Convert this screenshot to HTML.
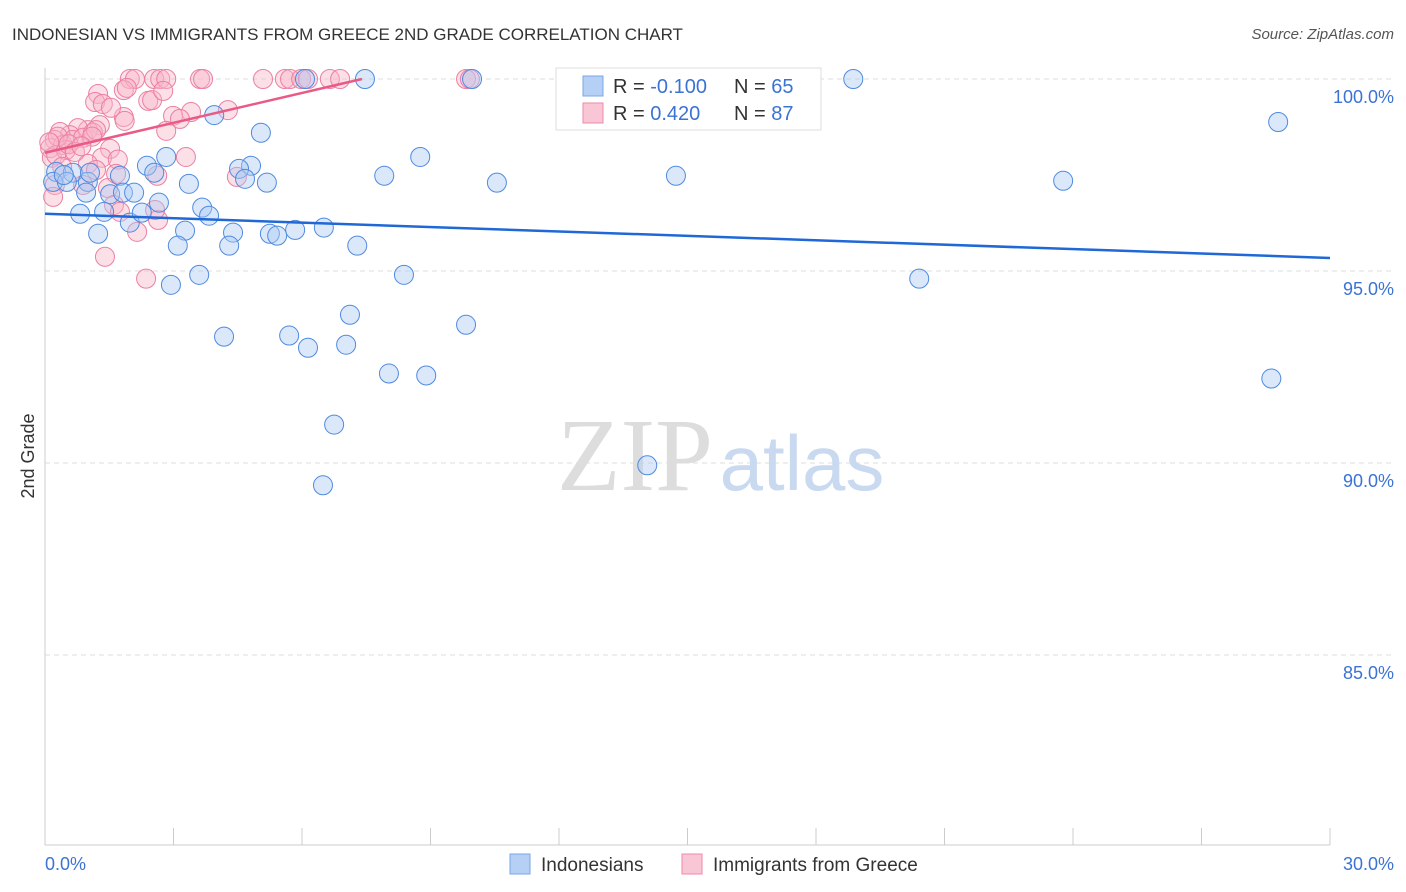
<!DOCTYPE html>
<html><head><meta charset="utf-8"><style>
body{margin:0;background:#fff;font-family:"Liberation Sans",sans-serif}
svg{display:block}
</style></head><body>
<svg id="chart" width="1406" height="892" xmlns="http://www.w3.org/2000/svg">
<text x="12" y="40" font-size="17" fill="#333">INDONESIAN VS IMMIGRANTS FROM GREECE 2ND GRADE CORRELATION CHART</text>
<text x="1394" y="39" font-size="15" fill="#555" font-style="italic" text-anchor="end">Source: ZipAtlas.com</text>
<g id="grid"></g>
<g><text x="635" y="490" font-size="104" fill="#ddd" font-family="Liberation Serif,serif" text-anchor="middle">ZIP</text><text x="802" y="490" font-size="78" fill="#c9d9f0" text-anchor="middle">atlas</text></g>
<line x1="45" y1="68" x2="45" y2="845" stroke="#ccc"/>
<line x1="45" y1="845" x2="1330" y2="845" stroke="#ccc"/>
<g id="xticks"></g>
<g id="ylabels"></g>
<text x="34" y="456" font-size="18" fill="#333" text-anchor="middle" transform="rotate(-90 34 456)">2nd Grade</text>
<text x="45" y="870" font-size="18" fill="#3b73d4">0.0%</text>
<text x="1394" y="870" font-size="18" fill="#3b73d4" text-anchor="end">30.0%</text>
<g id="pink"></g>
<g id="blue"></g>
<g id="lines"></g>
<g>
<rect x="556" y="68" width="265" height="62" fill="#fff" stroke="#ddd"/>
<rect x="583" y="76" width="20" height="20" fill="#b5cff5" stroke="#7aa7e8"/>
<rect x="583" y="103" width="20" height="20" fill="#f9c6d5" stroke="#f08aa9"/>
<text x="613" y="93" font-size="20" fill="#333">R = <tspan fill="#3b73d4">-0.100</tspan></text>
<text x="734" y="93" font-size="20" fill="#333">N = <tspan fill="#3b73d4">65</tspan></text>
<text x="613" y="120" font-size="20" fill="#333">R = <tspan fill="#3b73d4"> 0.420</tspan></text>
<text x="734" y="120" font-size="20" fill="#333">N = <tspan fill="#3b73d4">87</tspan></text>
</g>
<g>
<rect x="510" y="854" width="20" height="20" fill="#b5cff5" stroke="#7aa7e8"/>
<text x="541" y="871" font-size="19" fill="#333">Indonesians</text>
<rect x="682" y="854" width="20" height="20" fill="#f9c6d5" stroke="#f08aa9"/>
<text x="713" y="871" font-size="19" fill="#333">Immigrants from Greece</text>
</g>
</svg>
<script>
const yTicks=[100,95,90,85];
const yTickLabels=["100.0%","95.0%","90.0%","85.0%"];
const blueX=[7.47,9.97,18.87,28.79,3.95,5.04,8.76,2.83,2.38,2.55,1.75,4.81,4.53,4.67,5.18,7.92,10.55,14.73,23.77,0.26,0.65,0.19,0.51,1.0,1.05,1.52,1.82,2.08,0.96,3.36,0.82,1.38,1.98,2.66,2.26,3.67,3.83,1.24,3.27,3.1,4.39,4.3,5.25,5.42,5.84,6.51,7.29,3.6,2.94,8.38,20.41,7.12,9.83,4.18,5.7,6.14,7.03,8.03,8.9,28.63,6.75,14.06,6.49,6.07,0.44];
const blueY=[100,100,100,98.88,99.06,98.6,97.97,97.97,97.74,97.56,97.48,97.74,97.66,97.4,97.3,97.48,97.3,97.48,97.35,97.58,97.56,97.32,97.32,97.32,97.56,97.0,97.04,97.04,97.04,97.27,96.49,96.54,96.26,96.78,96.52,96.65,96.44,95.97,96.05,95.66,96.0,95.66,95.97,95.92,96.07,96.13,95.66,94.9,94.64,94.9,94.8,93.86,93.6,93.29,93.32,93.0,93.08,92.33,92.28,92.2,91.0,89.94,89.42,100,97.5];
const pinkX=[1.98,2.1,2.55,2.69,2.83,3.62,3.69,5.09,5.6,5.72,5.98,6.14,6.65,6.89,9.83,9.92,1.24,1.84,1.91,1.17,1.35,2.41,2.5,2.76,4.27,3.41,2.99,3.15,1.84,1.86,1.54,2.83,1.28,1.0,0.77,0.58,0.35,0.23,0.12,0.16,0.42,0.65,0.89,1.12,1.19,0.49,0.26,1.52,1.33,1.7,1.0,1.19,0.4,0.23,0.19,0.89,1.47,1.66,3.29,2.62,4.48,1.61,1.75,2.15,2.64,2.57,1.4,2.36,0.3,0.55,0.7,0.1,1.1,0.85];
const pinkY=[100,100,100,100,100,100,100,100,100,100,100,100,100,100,100,100,99.61,99.71,99.77,99.4,99.35,99.43,99.45,99.69,99.19,99.14,99.04,98.96,99.01,98.91,99.25,98.65,98.8,98.67,98.72,98.54,98.62,98.41,98.2,97.95,98.28,98.41,98.47,98.6,98.67,98.15,98.02,98.18,97.95,97.9,97.79,97.63,97.71,97.24,96.93,97.24,97.16,97.53,97.97,97.48,97.45,96.72,96.54,96.02,96.33,96.59,95.37,94.8,98.5,98.3,98.1,98.35,98.5,98.25];
const blueTrend=[[0,96.49],[30,95.34]];
const pinkTrend=[[0,98.08],[7.4,100]];
const X=v=>45+v/30*1285, Y=v=>79+(100-v)*38.4;
const NS="http://www.w3.org/2000/svg";
function mk(t,a,p){const e=document.createElementNS(NS,t);for(const k in a)e.setAttribute(k,a[k]);p.appendChild(e);return e;}
const grid=document.getElementById('grid'),yl=document.getElementById('ylabels');
yTicks.forEach((t,i)=>{
 const l=mk('line',{x1:45,x2:1394,y1:Y(t),y2:Y(t),stroke:'#ddd','stroke-dasharray':'5,4'},grid);
 
 
 const tx=mk('text',{x:1394,y:Y(t)+24,'font-size':18,fill:'#3b73d4','text-anchor':'end'},yl);
 tx.textContent=yTickLabels[i];
 
 
});
const xt=document.getElementById('xticks');
for(let i=0;i<=10;i++){const l=mk('line',{x1:X(i*3),x2:X(i*3),y1:828,y2:845,stroke:'#ccc'},xt);
 
 }
function pts(xs,ys,g,fill,stroke,name){xs.forEach((x,i)=>{const c=mk('circle',{cx:X(x),cy:Y(ys[i]),r:9.5,fill:fill,'fill-opacity':0.42,stroke:stroke,'stroke-width':1},g);
 
 });}
pts(pinkX,pinkY,document.getElementById('pink'),'#f7b6c9','#ec7fa2','greece-point');
pts(blueX,blueY,document.getElementById('blue'),'#a9c8f2','#4f8ae0','indonesian-point');
const lg=document.getElementById('lines');
const bl=mk('line',{x1:X(blueTrend[0][0]),y1:Y(blueTrend[0][1]),x2:X(blueTrend[1][0]),y2:Y(blueTrend[1][1]),stroke:'#1f68d6','stroke-width':2.5},lg);


const pl=mk('line',{x1:X(pinkTrend[0][0]),y1:Y(pinkTrend[0][1]),x2:X(pinkTrend[1][0]),y2:Y(pinkTrend[1][1]),stroke:'#ea5a86','stroke-width':2.5},lg);


</script>
</body></html>
